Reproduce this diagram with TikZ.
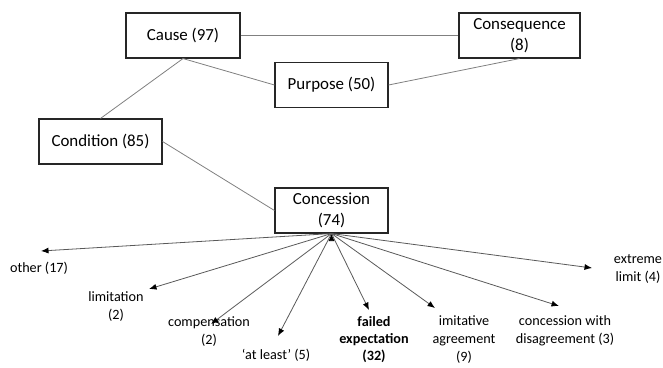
\documentclass[tikz,border=0pt]{standalone}
\usepackage{fontspec}
\setmainfont{Carlito}
\usetikzlibrary{arrows.meta, positioning}

\begin{document}
\begin{tikzpicture}[x=1pt,y=-1pt,on grid,
        box/.style={draw=black!85, line width=1.1pt, minimum height=45pt, inner sep=2pt,
            align=center, font=\fontsize{16.9}{20.5}\selectfont},
        leaf/.style={align=center, inner sep=0pt, font=\fontsize{14.2}{18}\selectfont},
        link/.style={draw=black!50, line width=0.8pt},
        branch/.style={draw=black!65, line width=0.8pt, ->},
        >={Latex[length=7.5pt,width=6pt,black]}]
        \useasboundingbox (0,0) rectangle (663,367);

        \node[box, minimum width=114pt]  (cause)   at (183,35.5)                            {Cause (97)};
        \node[box, minimum width=121pt]  (conseq)  [right=336.5pt of cause]                 {Consequence\\(8)};
        \node[box, minimum width=113pt]  (purpose) [below right=49.5pt and 148.5pt of cause] {Purpose (50)};
        \node[box, minimum width=123pt]  (cond)    [below left=106pt and 82.5pt of cause]    {Condition (85)};
        \node[box, minimum width=113pt]  (conc)    [below=125.5pt of purpose]               {Concession\\(74)};

        \path[link] (cause) edge (conseq)
        (cause.south) edge (purpose.west)
        edge (cond.north)
        (purpose.east) edge (conseq.south)
        (cond.east) edge (conc.west)
        ;

        % labels of the kinds of concession
        \node[leaf] (l_other)   at (39,268)    {other (17)};
        \node[leaf] (l_limit)   at (116,307)   {limitation\\(2)};
        \node[leaf] (l_comp)    at (209,331.5) {compensation\\(2)};
        \node[leaf] (l_least)   at (276,355)   {`at least' (5)};
        \node[leaf, font=\fontsize{14.2}{17}\selectfont\bfseries] (l_failed) at (374,340) {failed\\expectation\\(32)};
        \node[leaf] (l_imit)    at (464,340)   {imitative\\agreement\\(9)};
        \node[leaf] (l_disagr)  at (565,330.5) {concession with\\disagreement (3)};
        \node[leaf] (l_extreme) at (638,269)   {extreme\\limit (4)};

        \coordinate (t_other)   at (41,251);
        \coordinate (t_limit)   at (149,289);
        \coordinate (t_comp)    at (211,324);
        \coordinate (t_least)   at (278,336);
        \coordinate (t_failed)  at (369,310);
        \coordinate (t_imit)    at (435,308);
        \coordinate (t_disagr)  at (559,306);
        \coordinate (t_extreme) at (592,268);

        \path[branch] (conc.south) edge (t_other)
        edge (t_limit)
        edge (t_comp)
        edge (t_least)
        edge (t_failed)
        edge (t_imit)
        edge (t_disagr)
        edge (t_extreme)
        ;
    \end{tikzpicture}
\end{document}
